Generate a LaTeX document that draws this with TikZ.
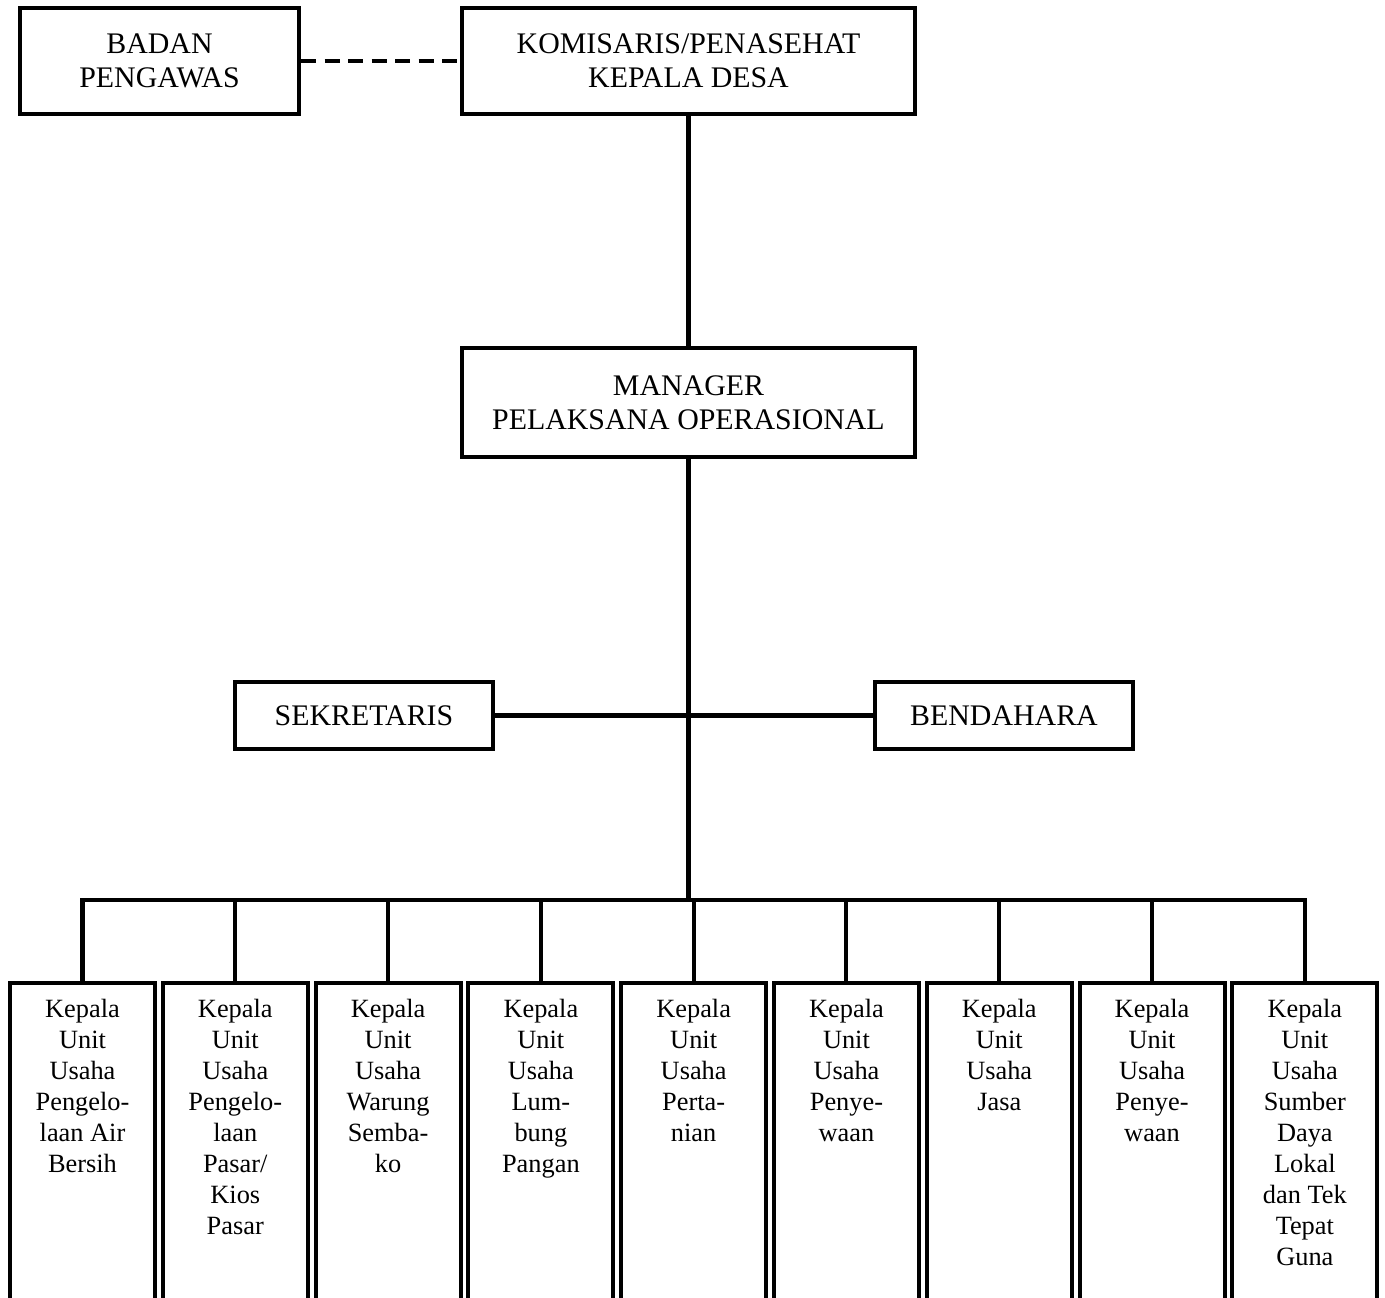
\documentclass[tikz,border=0pt]{standalone}
\usepackage{fontspec}
\setmainfont{Liberation Serif}
\usetikzlibrary{positioning}

\tikzset{
  headbox/.style={draw, line width=2.3pt, minimum width=9.06cm, minimum height=2.12cm,
    align=center, font=\fontsize{17}{19.5}\selectfont},
  staffbox/.style={draw, line width=2.3pt, minimum width=5.16cm, minimum height=1.34cm,
    font=\fontsize{17}{19.5}\selectfont},
  unitbox/.style={draw, line width=2.3pt, minimum width=2.9cm, minimum height=6.74cm},
  unittext/.style={anchor=north, align=center, inner sep=0pt, yshift=-0.36cm,
    font=\fontsize{15}{17.6}\selectfont},
  link/.style={line width=2.3pt},
  dashlink/.style={line width=2.3pt, dash pattern=on 0.3cm off 0.17cm}
}

\begin{document}
\begin{tikzpicture}
			\clip (0,0) rectangle (27.7,-25.96);
			% atas
			\node[headbox, minimum width=5.58cm] (bp) at (3.19,-1.22) {BADAN\\PENGAWAS};
			\node[headbox] (kom) at (13.77,-1.22) {KOMISARIS/PENASEHAT\\KEPALA DESA};
			\node[headbox, minimum height=2.18cm] (man) at (13.77,-8.05) {MANAGER\\PELAKSANA OPERASIONAL};
			\node[staffbox] (sek) at (7.28,-14.31) {SEKRETARIS};
			\node[staffbox] (ben) at (20.08,-14.31) {BENDAHARA};
			\coordinate (bus) at (13.77,-18.0);
			% unit usaha
			\node[unitbox] (u1) at (1.65,-23.03) {};
			\node[unitbox, right=0.075cm of u1] (u2) {};
			\node[unitbox, right=0.075cm of u2] (u3) {};
			\node[unitbox, right=0.075cm of u3] (u4) {};
			\node[unitbox, right=0.075cm of u4] (u5) {};
			\node[unitbox, right=0.075cm of u5] (u6) {};
			\node[unitbox, right=0.075cm of u6] (u7) {};
			\node[unitbox, right=0.075cm of u7] (u8) {};
			\node[unitbox, right=0.075cm of u8] (u9) {};
			\node[unittext] (t1) at (u1.north) {Kepala\\Unit\\Usaha\\Pengelo-\\laan Air\\Bersih};
			\node[unittext] (t2) at (u2.north) {Kepala\\Unit\\Usaha\\Pengelo-\\laan\\Pasar/\\Kios\\Pasar};
			\node[unittext] (t3) at (u3.north) {Kepala\\Unit\\Usaha\\Warung\\Semba-\\ko};
			\node[unittext] (t4) at (u4.north) {Kepala\\Unit\\Usaha\\Lum-\\bung\\Pangan};
			\node[unittext] (t5) at (u5.north) {Kepala\\Unit\\Usaha\\Perta-\\nian};
			\node[unittext] (t6) at (u6.north) {Kepala\\Unit\\Usaha\\Penye-\\waan};
			\node[unittext] (t7) at (u7.north) {Kepala\\Unit\\Usaha\\Jasa};
			\node[unittext] (t8) at (u8.north) {Kepala\\Unit\\Usaha\\Penye-\\waan};
			\node[unittext] (t9) at (u9.north) {Kepala\\Unit\\Usaha\\Sumber\\Daya\\Lokal\\dan Tek\\Tepat\\Guna};
			% garis
			\draw[dashlink] (bp) -- (kom);
			\draw[link] (kom) -- (man);
			\draw[link] (man) -- (bus);
			\draw[link] (sek) -- (ben);
			\draw[link, line cap=rect] (u1.north |- bus) -- (u9.north |- bus);
			\foreach \u in {u1,u2,u3,u4,u5,u6,u7,u8,u9}
				\draw[link] (\u.north |- bus) -- (\u.north);
		\end{tikzpicture}
\end{document}
